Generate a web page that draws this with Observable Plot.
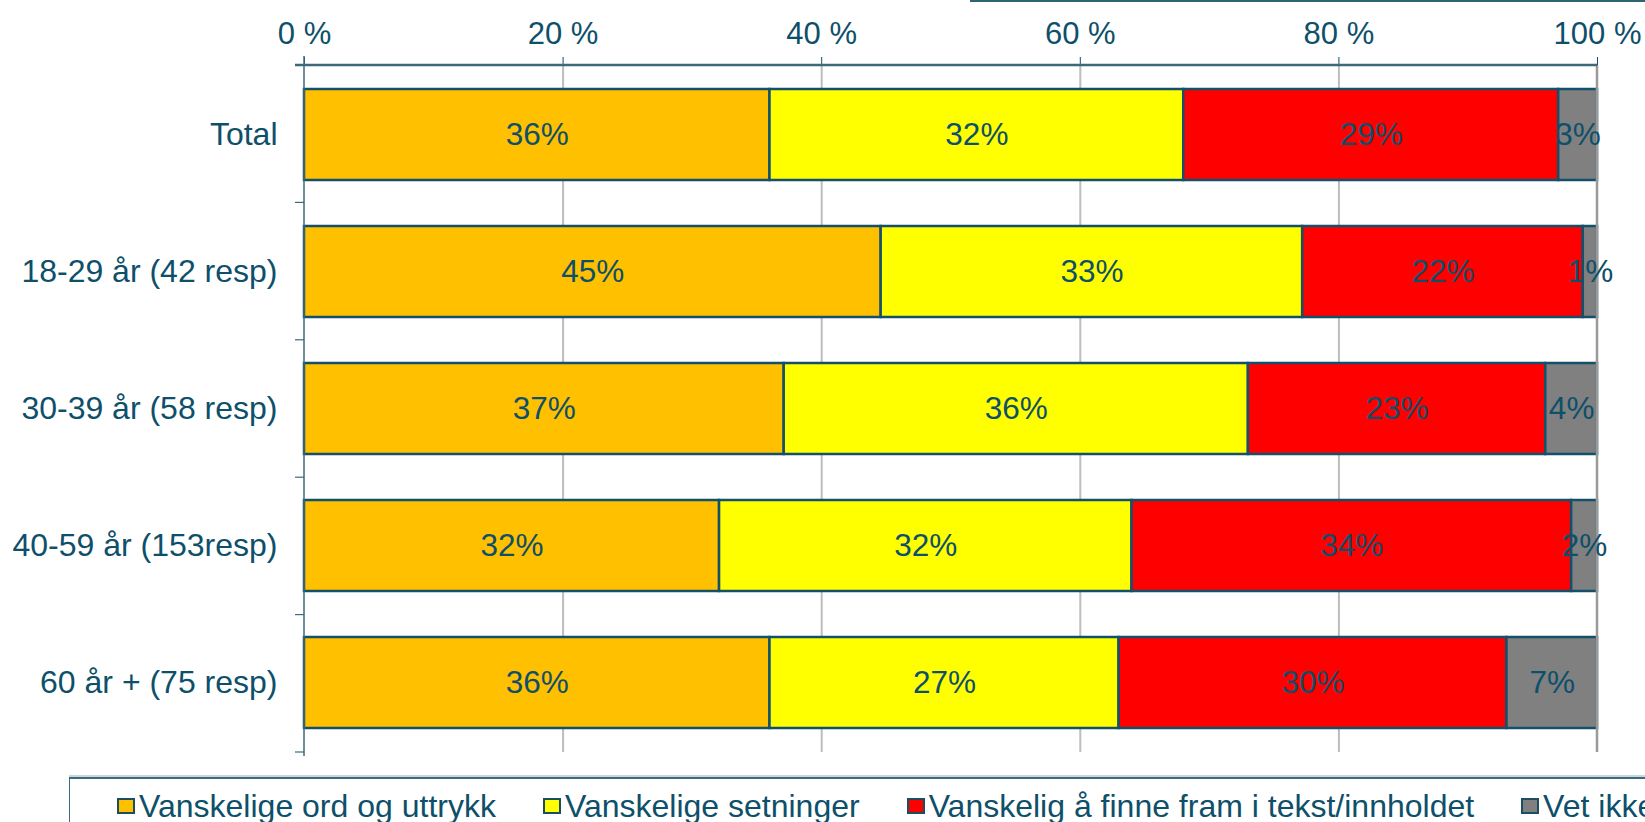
<!DOCTYPE html>
<html>
<head>
<meta charset="utf-8">
<script src="https://cdn.jsdelivr.net/npm/d3@7"></script>
<script src="https://cdn.jsdelivr.net/npm/@observablehq/plot@0.6"></script>
<style>
  html, body { margin: 0; padding: 0; background: #fff; overflow: hidden; width: 1645px; height: 822px; }
  #wrap { position: relative; width: 1645px; height: 822px; overflow: hidden; font-family: "Liberation Sans", Arial, sans-serif; }
  #titlebox { position: absolute; left: 970px; top: -4px; width: 700px; height: 4px; border-left: 2px solid #2F6374; border-bottom: 2px solid #2F6374; }
  #legend { position: absolute; left: 69px; top: 777px; width: 1700px; border-top: 2px solid #3D6B7B; border-left: 1.5px solid #3D6B7B; box-shadow: 0 -2px 0 #C9D7DD; display: flex; align-items: center; padding-left: 47px; box-sizing: border-box; height: 55px; }
  .item { display: flex; align-items: center; margin-right: 47px; white-space: nowrap; font-size: 32px; line-height: 1; color: #0E4F6A; }
  .sw { width: 14px; height: 12px; border: 2px solid #1B4D63; margin-right: 4px; }
</style>
</head>
<body>
<div id="wrap">
  <div id="chart"></div>
  <div id="titlebox"></div>
  <div id="legend"></div>
</div>
<script>
const categories = ["Total", "18-29 år (42 resp)", "30-39 år (58 resp)", "40-59 år (153resp)", "60 år + (75 resp)"];
const series = ["Vanskelige ord og uttrykk", "Vanskelige setninger", "Vanskelig å finne fram i tekst/innholdet", "Vet ikke"];
const ordValues = [36, 44.6, 37.1, 32.1, 36];
const setningerValues = [32, 32.6, 35.9, 31.9, 27];
const finneValues = [29, 21.7, 23, 34, 30];
const vetIkkeValues = [3, 1.1, 4, 2, 7];
const ordLabels = ["36%", "45%", "37%", "32%", "36%"];
const setningerLabels = ["32%", "33%", "36%", "32%", "27%"];
const finneLabels = ["29%", "22%", "23%", "34%", "30%"];
const vetIkkeLabels = ["3%", "1%", "4%", "2%", "7%"];
const xTicks = [0, 20, 40, 60, 80, 100];
const colors = ["#FFC000", "#FFFF00", "#FF0000", "#808080"];

const textColor = "#0E4F6A";
const edge = "#14506A";

const valueSets = [ordValues, setningerValues, finneValues, vetIkkeValues];
const labelSets = [ordLabels, setningerLabels, finneLabels, vetIkkeLabels];
const data = [];
categories.forEach((cat, i) => {
  let cum = 0;
  series.forEach((s, j) => {
    const v = valueSets[j][i];
    data.push({cat, series: s, value: v, start: cum, end: cum + v, mid: cum + v / 2, label: labelSets[j][i]});
    cum += v;
  });
});

function decor(index, scales, values, dims) {
  const g = d3.create("svg:g");
  const top = dims.marginTop;
  const bottom = dims.height - dims.marginBottom;
  const x0 = scales.x(0), x100 = scales.x(100);
  const step = (bottom - top) / categories.length;
  g.append("line").attr("x1", x100).attr("x2", x100).attr("y1", top).attr("y2", bottom)
    .attr("stroke", "#9A9A9A").attr("stroke-width", 2.5);
  g.append("line").attr("x1", x0 - 9).attr("x2", x100).attr("y1", top).attr("y2", top)
    .attr("stroke", "#3C6A78").attr("stroke-width", 2.5);
  g.append("line").attr("x1", x0).attr("x2", x0).attr("y1", top - 9).attr("y2", bottom + 4)
    .attr("stroke", "#3C6A78").attr("stroke-width", 1.5);
  for (let k = 0; k <= categories.length; k++) {
    const yy = top + k * step;
    g.append("line").attr("x1", x0 - 9).attr("x2", x0).attr("y1", yy).attr("y2", yy)
      .attr("stroke", "#3C6A78").attr("stroke-width", 1.2);
  }
  return g.node();
}

const plot = Plot.plot({
  width: 1645,
  height: 775,
  marginTop: 65,
  marginBottom: 23,
  marginLeft: 304,
  marginRight: 48,
  x: {domain: [0, 100]},
  y: {domain: categories, paddingInner: 0.335, paddingOuter: 0.1675},
  color: {domain: series, range: colors},
  style: {fontFamily: "'Liberation Sans', Arial, sans-serif", color: textColor, background: "white", overflow: "visible"},
  marks: [
    Plot.gridX(xTicks.slice(1, -1), {stroke: "#BDBDBD", strokeOpacity: 1, strokeWidth: 2}),
    Plot.axisX(xTicks, {anchor: "top", tickSize: 9, tickPadding: 13, tickFormat: d => `${d} %`, fontSize: 31, color: textColor, strokeWidth: 1, label: null}),
    Plot.axisY({tickSize: 0, tickPadding: 27, fontSize: 32, color: textColor, label: null}),
    Plot.barX(data, {x1: "start", x2: "end", y: "cat", fill: "series", stroke: edge, strokeWidth: 2.5}),
    decor,
    Plot.text(data, {x: "mid", y: "cat", text: "label", fontSize: 31.5, fill: textColor})
  ]
});
document.getElementById("chart").appendChild(plot);

const legend = document.getElementById("legend");
series.forEach((s, j) => {
  const item = document.createElement("div");
  item.className = "item";
  const sw = document.createElement("div");
  sw.className = "sw";
  sw.style.background = colors[j];
  const t = document.createElement("span");
  t.textContent = s;
  item.appendChild(sw);
  item.appendChild(t);
  legend.appendChild(item);
});
</script>
</body>
</html>
